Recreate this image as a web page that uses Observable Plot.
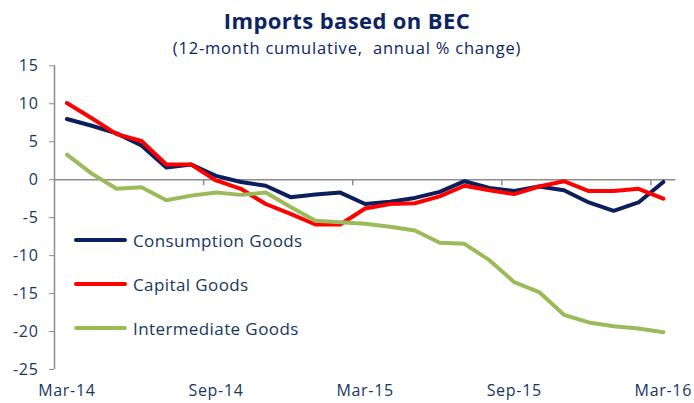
<!DOCTYPE html>
<html><head><meta charset="utf-8">
<script src="https://cdn.jsdelivr.net/npm/d3@7"></script>
<script src="https://cdn.jsdelivr.net/npm/@observablehq/plot@0.6"></script>
<style>
body{margin:0;background:#fff;}
#wrap{position:relative;width:694px;height:403px;overflow:hidden;background:#fff;}
#title{position:absolute;top:6px;left:0;width:694px;text-align:center;font:bold 22px "Liberation Sans Narrow","Open Sans",sans-serif;letter-spacing:0.4px;color:#0b2463;line-height:28px;}
#subtitle{position:absolute;top:36px;left:0;width:694px;text-align:center;font:16.5px "Open Sans",sans-serif;letter-spacing:0.8px;white-space:pre;color:#0b2463;line-height:24px;}
#chart{position:absolute;top:58px;left:0;}
#legend{position:absolute;left:74px;top:218px;font:17px "Open Sans",sans-serif;letter-spacing:0.4px;color:#17375e;}
.li{display:flex;align-items:center;height:44px;}
.sw{width:53px;height:4px;margin-right:6px;border-radius:2px;}
</style></head>
<body><div id="wrap">
<div id="title"></div>
<div id="subtitle"></div>
<div id="chart"></div>
<div id="legend"></div>
</div>
<script>
const titleText = "Imports based on BEC";
const subtitleText = "(12-month cumulative,  annual % change)";
const months = ["Mar-14","Apr-14","May-14","Jun-14","Jul-14","Aug-14","Sep-14","Oct-14","Nov-14","Dec-14","Jan-15","Feb-15","Mar-15","Apr-15","May-15","Jun-15","Jul-15","Aug-15","Sep-15","Oct-15","Nov-15","Dec-15","Jan-16","Feb-16","Mar-16"];
const xTickLabels = ["Mar-14","Sep-14","Mar-15","Sep-15","Mar-16"];
const yTicks = [15,10,5,0,-5,-10,-15,-20,-25];
const seriesNames = ["Consumption Goods","Capital Goods","Intermediate Goods"];
const seriesColors = ["#0a1f5c","#ff0000","#9bbb59"];
const consumption = [8.0,7.1,6.1,4.5,1.6,2.0,0.5,-0.3,-0.8,-2.3,-1.95,-1.7,-3.2,-2.9,-2.4,-1.6,-0.2,-1.1,-1.5,-0.9,-1.4,-3.0,-4.1,-3.0,-0.3];
const capital = [10.1,8.1,6.0,5.1,2.0,2.0,-0.1,-1.2,-3.2,-4.5,-5.9,-5.9,-3.8,-3.2,-3.1,-2.2,-0.8,-1.4,-1.9,-0.9,-0.2,-1.5,-1.5,-1.2,-2.5];
const intermediate = [3.3,0.8,-1.2,-1.0,-2.7,-2.1,-1.7,-2.0,-1.7,-3.6,-5.4,-5.6,-5.8,-6.2,-6.7,-8.3,-8.45,-10.6,-13.5,-14.8,-17.8,-18.8,-19.3,-19.6,-20.1];

document.getElementById("title").textContent = titleText;
document.getElementById("subtitle").textContent = subtitleText;

const seriesValues = [consumption, capital, intermediate];
const rows = seriesValues.flatMap((vals, s) => vals.map((v, i) => ({i, v, series: seriesNames[s]})));
const tickIdx = xTickLabels.map(m => months.indexOf(m));
// category boundaries every 6 months (Excel-style tick marks between categories)
const boundaries = tickIdx.slice(1).map(i => i - 0.5);
const axisColor = "#8c8c8c";
const textColor = "#17375e";

const chart = Plot.plot({
  width: 694, height: 345,
  marginTop: 7.3, marginBottom: 34, marginLeft: 54, marginRight: 18.75,
  x: {domain: [-0.5, months.length - 0.5]},
  y: {domain: [-25, 15]},
  color: {domain: seriesNames, range: seriesColors},
  style: {fontFamily: "'Open Sans', sans-serif", fontSize: "16px", letterSpacing: "0.7px", background: "#fff", overflow: "visible"},
  marks: [
    Plot.ruleX([-0.5], {stroke: axisColor, strokeWidth: 1.5}),
    Plot.axisY({ticks: yTicks, tickSize: 5, tickPadding: 11, stroke: axisColor, strokeOpacity: 1, fill: textColor, label: null, tickFormat: d => String(d).replace("−","-")}),
    Plot.ruleY([0], {stroke: axisColor, strokeWidth: 1.5}),
    Plot.ruleX(boundaries, {y1: 0, y2: -0.8, stroke: axisColor, strokeWidth: 1.5}),
    Plot.axisX({ticks: tickIdx, tickSize: 0, tickPadding: 15, fill: textColor, label: null, tickFormat: i => months[i]}),
    Plot.line(rows, {x: "i", y: "v", z: "series", stroke: "series", strokeWidth: 4, strokeLinejoin: "round", strokeLinecap: "round"})
  ]
});
document.getElementById("chart").append(chart);

const legend = document.getElementById("legend");
seriesNames.forEach((n, k) => {
  const row = document.createElement("div"); row.className = "li";
  const sw = document.createElement("div"); sw.className = "sw"; sw.style.background = seriesColors[k];
  const t = document.createElement("span"); t.textContent = n;
  row.append(sw, t); legend.append(row);
});
</script>
</body></html>
